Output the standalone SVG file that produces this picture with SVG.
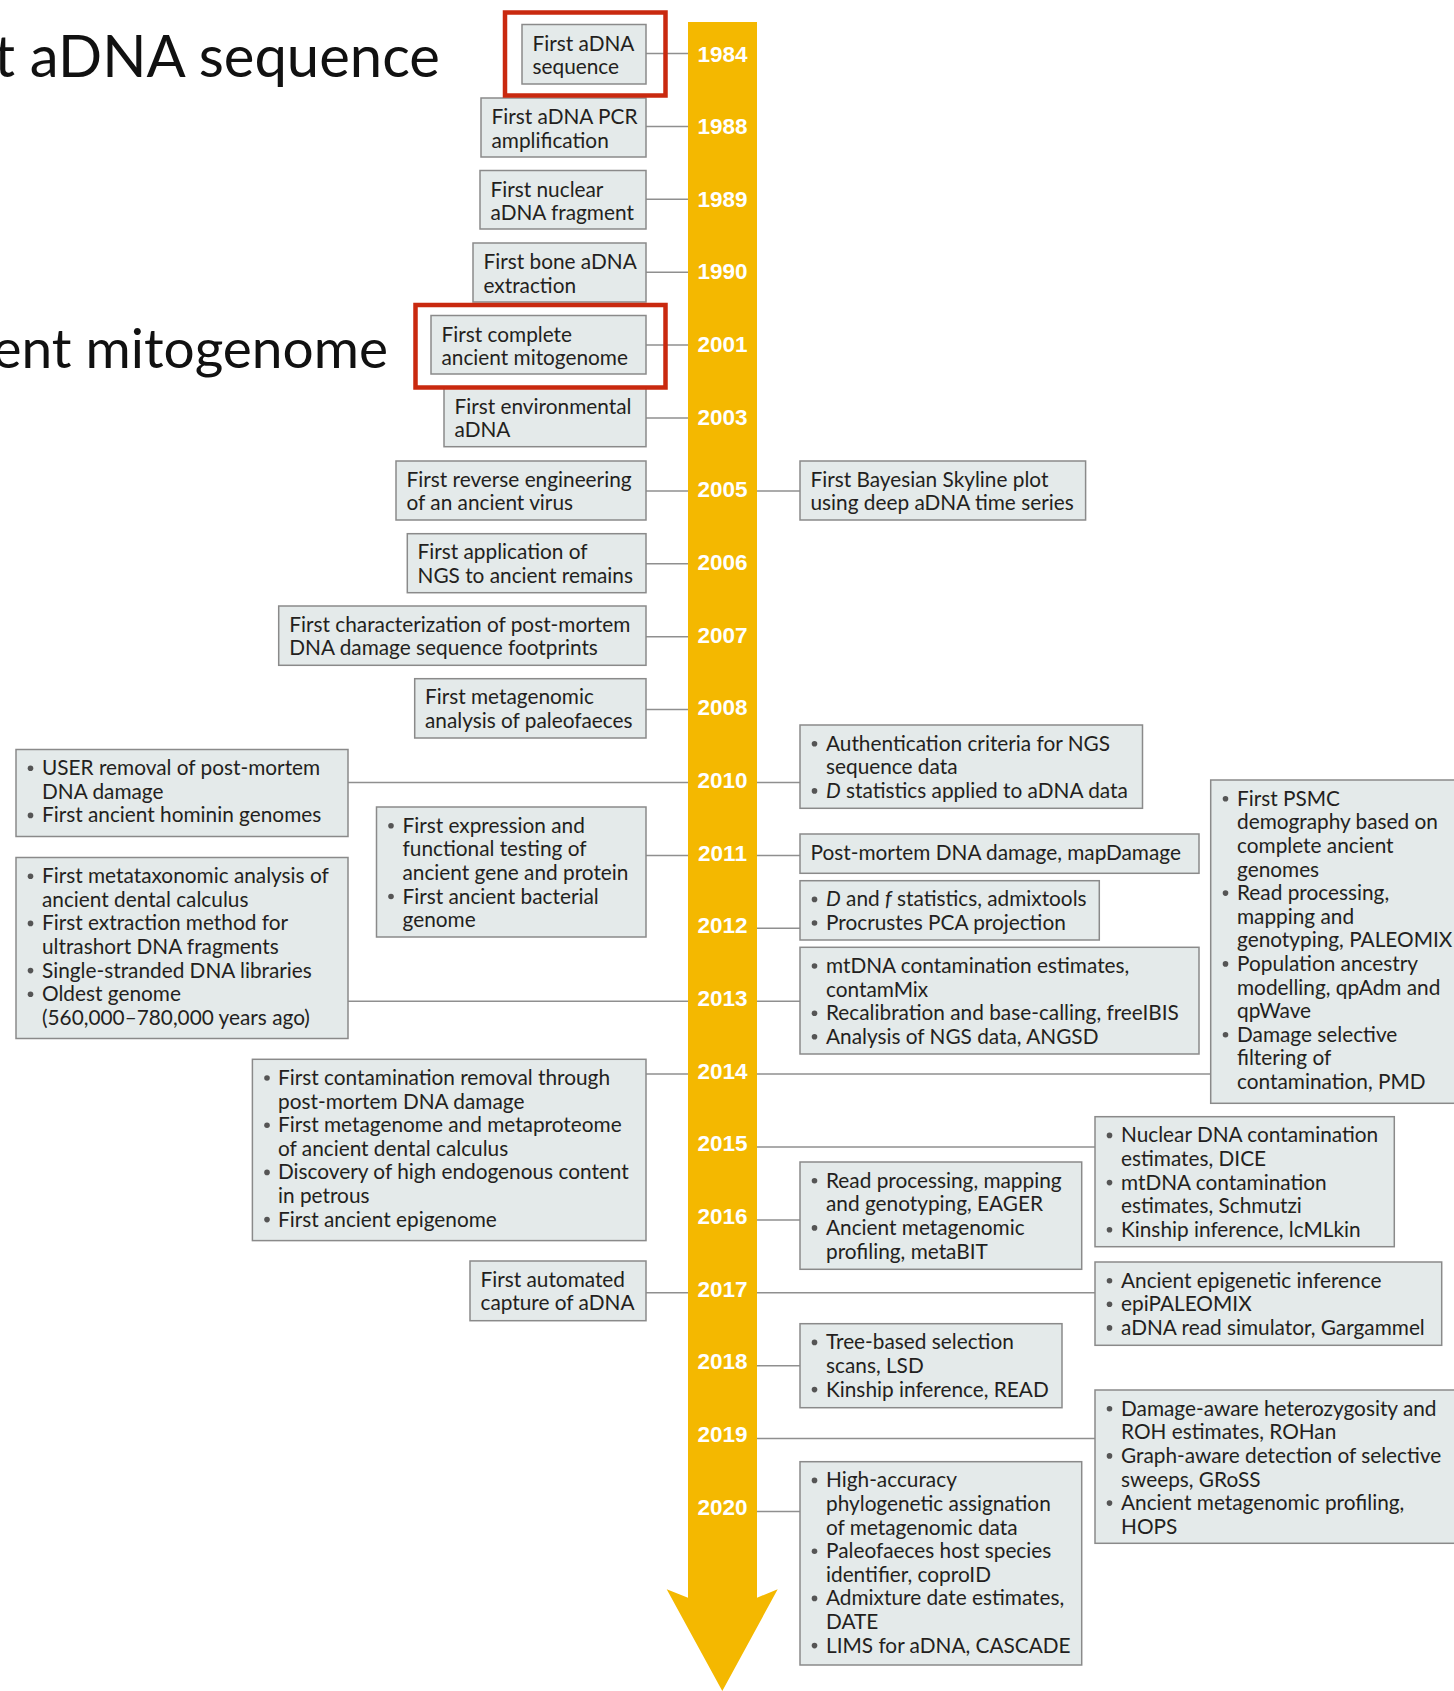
<svg xmlns="http://www.w3.org/2000/svg" width="1454" height="1691" viewBox="0 0 1454 1691">
<style>
.box{fill:#e4eaea;stroke:#8a8a8a;stroke-width:1.5}
.t{font-family:Lato,"Open Sans","Liberation Sans",sans-serif;font-size:20.8px;fill:#231f20}
.yr{font-family:"Liberation Sans",Arial,sans-serif;font-weight:bold;font-size:22.5px;fill:#ffffff;text-anchor:middle}
.con{stroke:#8f8f8f;stroke-width:1.5;fill:none}
.red{fill:none;stroke:#c9290f;stroke-width:4.5}
.bul{fill:#555555}
.title{font-family:Lato,"Open Sans","Liberation Sans",sans-serif;fill:#111111;text-anchor:end}
</style>
<rect width="1454" height="1691" fill="#ffffff"/>
<text class="title" x="440" y="77" font-size="58">t aDNA sequence</text>
<text class="title" x="388" y="368" font-size="55">ent mitogenome</text>

<g id="timeline">
<path d="M688,22 H757 V1597.7 L777.7,1589.3 L722.3,1691 L666.7,1589.3 L688,1597.7 Z" fill="#f4b800"/>
</g>

<g id="connectors">
<line class="con" x1="646" y1="53.5" x2="688" y2="53.5"/>
<line class="con" x1="646" y1="126.4" x2="688" y2="126.4"/>
<line class="con" x1="646" y1="199.3" x2="688" y2="199.3"/>
<line class="con" x1="646" y1="272.2" x2="688" y2="272.2"/>
<line class="con" x1="646" y1="345.1" x2="688" y2="345.1"/>
<line class="con" x1="646" y1="418" x2="688" y2="418"/>
<line class="con" x1="646" y1="490.9" x2="688" y2="490.9"/>
<line class="con" x1="646" y1="563.8" x2="688" y2="563.8"/>
<line class="con" x1="646" y1="636.7" x2="688" y2="636.7"/>
<line class="con" x1="646" y1="709.6" x2="688" y2="709.6"/>
<line class="con" x1="348" y1="782.5" x2="688" y2="782.5"/>
<line class="con" x1="646" y1="855.4" x2="688" y2="855.4"/>
<line class="con" x1="348" y1="1001.2" x2="688" y2="1001.2"/>
<line class="con" x1="646" y1="1074.1" x2="688" y2="1074.1"/>
<line class="con" x1="646" y1="1292.8" x2="688" y2="1292.8"/>
<line class="con" x1="757" y1="490.9" x2="800" y2="490.9"/>
<line class="con" x1="757" y1="782.5" x2="800" y2="782.5"/>
<line class="con" x1="757" y1="855.4" x2="800" y2="855.4"/>
<line class="con" x1="757" y1="928.3" x2="800" y2="928.3"/>
<line class="con" x1="757" y1="1001.2" x2="800" y2="1001.2"/>
<line class="con" x1="757" y1="1074.1" x2="1210.7" y2="1074.1"/>
<line class="con" x1="757" y1="1147" x2="1095" y2="1147"/>
<line class="con" x1="757" y1="1219.9" x2="800" y2="1219.9"/>
<line class="con" x1="757" y1="1292.8" x2="1095" y2="1292.8"/>
<line class="con" x1="757" y1="1365.7" x2="800" y2="1365.7"/>
<line class="con" x1="757" y1="1438.6" x2="1095" y2="1438.6"/>
<line class="con" x1="757" y1="1511.5" x2="800" y2="1511.5"/>
</g>

<g id="years">
<text class="yr" x="722.5" y="61.5">1984</text>
<text class="yr" x="722.5" y="134.2">1988</text>
<text class="yr" x="722.5" y="206.8">1989</text>
<text class="yr" x="722.5" y="279.4">1990</text>
<text class="yr" x="722.5" y="352.1">2001</text>
<text class="yr" x="722.5" y="424.8">2003</text>
<text class="yr" x="722.5" y="497.4">2005</text>
<text class="yr" x="722.5" y="570.1">2006</text>
<text class="yr" x="722.5" y="642.7">2007</text>
<text class="yr" x="722.5" y="715.4">2008</text>
<text class="yr" x="722.5" y="788">2010</text>
<text class="yr" x="722.5" y="860.7">2011</text>
<text class="yr" x="722.5" y="933.3">2012</text>
<text class="yr" x="722.5" y="1006">2013</text>
<text class="yr" x="722.5" y="1078.6">2014</text>
<text class="yr" x="722.5" y="1151.3">2015</text>
<text class="yr" x="722.5" y="1223.9">2016</text>
<text class="yr" x="722.5" y="1296.6">2017</text>
<text class="yr" x="722.5" y="1369.2">2018</text>
<text class="yr" x="722.5" y="1441.8">2019</text>
<text class="yr" x="722.5" y="1514.5">2020</text>
</g>

<g id="n1984">
<rect class="box" x="522" y="24.5" width="124" height="59.5"/>
<text class="t" x="532.5" y="50.5">First aDNA</text>
<text class="t" x="532.5" y="74.1">sequence</text>
</g>
<g id="n1988">
<rect class="box" x="481" y="98" width="165" height="59"/>
<text class="t" x="491.5" y="124">First aDNA PCR</text>
<text class="t" x="491.5" y="147.6">amplification</text>
</g>
<g id="n1989">
<rect class="box" x="480" y="170.5" width="166" height="58.5"/>
<text class="t" x="490.5" y="196.5">First nuclear</text>
<text class="t" x="490.5" y="220.1">aDNA fragment</text>
</g>
<g id="n1990">
<rect class="box" x="473" y="243" width="173" height="59"/>
<text class="t" x="483.5" y="269">First bone aDNA</text>
<text class="t" x="483.5" y="292.6">extraction</text>
</g>
<g id="n2001">
<rect class="box" x="431" y="315.5" width="215" height="58.5"/>
<text class="t" x="441.5" y="341.5">First complete</text>
<text class="t" x="441.5" y="365.1">ancient mitogenome</text>
</g>
<g id="n2003">
<rect class="box" x="444" y="388" width="202" height="58.7"/>
<text class="t" x="454.5" y="413.5">First environmental</text>
<text class="t" x="454.5" y="437.1">aDNA</text>
</g>
<g id="n2005L">
<rect class="box" x="396" y="461" width="250" height="59"/>
<text class="t" x="406.5" y="486.7">First reverse engineering</text>
<text class="t" x="406.5" y="510.3">of an ancient virus</text>
</g>
<g id="n2006L">
<rect class="box" x="407.3" y="533.7" width="238.7" height="59"/>
<text class="t" x="417.5" y="559.4">First application of</text>
<text class="t" x="417.5" y="583">NGS to ancient remains</text>
</g>
<g id="n2007L">
<rect class="box" x="278.7" y="606" width="367.3" height="59.3"/>
<text class="t" x="289.3" y="631.7">First characterization of post-mortem</text>
<text class="t" x="289.3" y="655.3">DNA damage sequence footprints</text>
</g>
<g id="n2008L">
<rect class="box" x="414.7" y="678.7" width="231.3" height="59.3"/>
<text class="t" x="425" y="704.4">First metagenomic</text>
<text class="t" x="425" y="728">analysis of paleofaeces</text>
</g>
<g id="n2010L">
<rect class="box" x="16" y="749.5" width="332" height="87"/>
<circle class="bul" cx="30.5" cy="768.2" r="2.8"/>
<circle class="bul" cx="30.5" cy="815.4" r="2.8"/>
<text class="t" x="42" y="775.2">USER removal of post-mortem</text>
<text class="t" x="42" y="798.8">DNA damage</text>
<text class="t" x="42" y="822.4">First ancient hominin genomes</text>
</g>
<g id="n2011L">
<rect class="box" x="376.5" y="807" width="269.5" height="130"/>
<circle class="bul" cx="391" cy="825.7" r="2.8"/>
<circle class="bul" cx="391" cy="896.5" r="2.8"/>
<text class="t" x="402.5" y="832.7">First expression and</text>
<text class="t" x="402.5" y="856.3">functional testing of</text>
<text class="t" x="402.5" y="879.9">ancient gene and protein</text>
<text class="t" x="402.5" y="903.5">First ancient bacterial</text>
<text class="t" x="402.5" y="927.1">genome</text>
</g>
<g id="n2013L">
<rect class="box" x="16" y="857.5" width="332" height="181"/>
<circle class="bul" cx="30.5" cy="876.2" r="2.8"/>
<circle class="bul" cx="30.5" cy="923.4" r="2.8"/>
<circle class="bul" cx="30.5" cy="970.6" r="2.8"/>
<circle class="bul" cx="30.5" cy="994.2" r="2.8"/>
<text class="t" x="42" y="883.2">First metataxonomic analysis of</text>
<text class="t" x="42" y="906.8">ancient dental calculus</text>
<text class="t" x="42" y="930.4">First extraction method for</text>
<text class="t" x="42" y="954">ultrashort DNA fragments</text>
<text class="t" x="42" y="977.6">Single-stranded DNA libraries</text>
<text class="t" x="42" y="1001.2">Oldest genome</text>
<text class="t" x="42" y="1024.8">(560,000–780,000 years ago)</text>
</g>
<g id="n2014L">
<rect class="box" x="252.4" y="1059.3" width="393.6" height="181.3"/>
<circle class="bul" cx="267" cy="1078" r="2.8"/>
<circle class="bul" cx="267" cy="1125.2" r="2.8"/>
<circle class="bul" cx="267" cy="1172.4" r="2.8"/>
<circle class="bul" cx="267" cy="1219.6" r="2.8"/>
<text class="t" x="278" y="1085">First contamination removal through</text>
<text class="t" x="278" y="1108.6">post-mortem DNA damage</text>
<text class="t" x="278" y="1132.2">First metagenome and metaproteome</text>
<text class="t" x="278" y="1155.8">of ancient dental calculus</text>
<text class="t" x="278" y="1179.4">Discovery of high endogenous content</text>
<text class="t" x="278" y="1203">in petrous</text>
<text class="t" x="278" y="1226.6">First ancient epigenome</text>
</g>
<g id="n2017L">
<rect class="box" x="470" y="1261" width="176" height="59.7"/>
<text class="t" x="480.5" y="1286.7">First automated</text>
<text class="t" x="480.5" y="1310.3">capture of aDNA</text>
</g>

<g id="n2005R">
<rect class="box" x="800" y="461" width="285.6" height="59"/>
<text class="t" x="810.5" y="486.7">First Bayesian Skyline plot</text>
<text class="t" x="810.5" y="510.3">using deep aDNA time series</text>
</g>
<g id="n2010R">
<rect class="box" x="800" y="725" width="342.5" height="83.3"/>
<circle class="bul" cx="814.5" cy="743.7" r="2.8"/>
<circle class="bul" cx="814.5" cy="790.9" r="2.8"/>
<text class="t" x="826" y="750.7">Authentication criteria for NGS</text>
<text class="t" x="826" y="774.3">sequence data</text>
<text class="t" x="826" y="797.9"><tspan font-style="italic">D</tspan> statistics applied to aDNA data</text>
</g>
<g id="n2011R">
<rect class="box" x="800" y="834" width="399" height="39.3"/>
<text class="t" x="810.5" y="860.3">Post-mortem DNA damage, mapDamage</text>
</g>
<g id="n2012R">
<rect class="box" x="800" y="880.7" width="299.3" height="59.3"/>
<circle class="bul" cx="814.5" cy="899.4" r="2.8"/>
<circle class="bul" cx="814.5" cy="923" r="2.8"/>
<text class="t" x="826" y="906.4"><tspan font-style="italic">D</tspan> and <tspan font-style="italic">f</tspan> statistics, admixtools</text>
<text class="t" x="826" y="930">Procrustes PCA projection</text>
</g>
<g id="n2013R">
<rect class="box" x="800" y="947.3" width="399" height="106.7"/>
<circle class="bul" cx="814.5" cy="966" r="2.8"/>
<circle class="bul" cx="814.5" cy="1013.2" r="2.8"/>
<circle class="bul" cx="814.5" cy="1036.8" r="2.8"/>
<text class="t" x="826" y="973">mtDNA contamination estimates,</text>
<text class="t" x="826" y="996.6">contamMix</text>
<text class="t" x="826" y="1020.2">Recalibration and base-calling, freeIBIS</text>
<text class="t" x="826" y="1043.8">Analysis of NGS data, ANGSD</text>
</g>
<g id="n2014R">
<rect class="box" x="1210.7" y="780" width="300" height="323.3"/>
<circle class="bul" cx="1225.5" cy="798.7" r="2.8"/>
<circle class="bul" cx="1225.5" cy="893.1" r="2.8"/>
<circle class="bul" cx="1225.5" cy="963.9" r="2.8"/>
<circle class="bul" cx="1225.5" cy="1034.7" r="2.8"/>
<text class="t" x="1237" y="805.7">First PSMC</text>
<text class="t" x="1237" y="829.3">demography based on</text>
<text class="t" x="1237" y="852.9">complete ancient</text>
<text class="t" x="1237" y="876.5">genomes</text>
<text class="t" x="1237" y="900.1">Read processing,</text>
<text class="t" x="1237" y="923.7">mapping and</text>
<text class="t" x="1237" y="947.3">genotyping, PALEOMIX</text>
<text class="t" x="1237" y="970.9">Population ancestry</text>
<text class="t" x="1237" y="994.5">modelling, qpAdm and</text>
<text class="t" x="1237" y="1018.1">qpWave</text>
<text class="t" x="1237" y="1041.7">Damage selective</text>
<text class="t" x="1237" y="1065.3">filtering of</text>
<text class="t" x="1237" y="1088.9">contamination, PMD</text>
</g>
<g id="n2015R">
<rect class="box" x="1095" y="1116.7" width="299.3" height="130"/>
<circle class="bul" cx="1109.5" cy="1135.4" r="2.8"/>
<circle class="bul" cx="1109.5" cy="1182.6" r="2.8"/>
<circle class="bul" cx="1109.5" cy="1229.8" r="2.8"/>
<text class="t" x="1121" y="1142.4">Nuclear DNA contamination</text>
<text class="t" x="1121" y="1166">estimates, DICE</text>
<text class="t" x="1121" y="1189.6">mtDNA contamination</text>
<text class="t" x="1121" y="1213.2">estimates, Schmutzi</text>
<text class="t" x="1121" y="1236.8">Kinship inference, lcMLkin</text>
</g>
<g id="n2016R">
<rect class="box" x="800" y="1162" width="281.7" height="107.3"/>
<circle class="bul" cx="814.5" cy="1180.7" r="2.8"/>
<circle class="bul" cx="814.5" cy="1227.9" r="2.8"/>
<text class="t" x="826" y="1187.7">Read processing, mapping</text>
<text class="t" x="826" y="1211.3">and genotyping, EAGER</text>
<text class="t" x="826" y="1234.9">Ancient metagenomic</text>
<text class="t" x="826" y="1258.5">profiling, metaBIT</text>
</g>
<g id="n2017R">
<rect class="box" x="1095" y="1262" width="346.7" height="83.3"/>
<circle class="bul" cx="1109.5" cy="1280.7" r="2.8"/>
<circle class="bul" cx="1109.5" cy="1304.3" r="2.8"/>
<circle class="bul" cx="1109.5" cy="1327.9" r="2.8"/>
<text class="t" x="1121" y="1287.7">Ancient epigenetic inference</text>
<text class="t" x="1121" y="1311.3">epiPALEOMIX</text>
<text class="t" x="1121" y="1334.9">aDNA read simulator, Gargammel</text>
</g>
<g id="n2018R">
<rect class="box" x="800" y="1323.7" width="262" height="84"/>
<circle class="bul" cx="814.5" cy="1342.4" r="2.8"/>
<circle class="bul" cx="814.5" cy="1389.6" r="2.8"/>
<text class="t" x="826" y="1349.4">Tree-based selection</text>
<text class="t" x="826" y="1373">scans, LSD</text>
<text class="t" x="826" y="1396.6">Kinship inference, READ</text>
</g>
<g id="n2019R">
<rect class="box" x="1095" y="1390" width="380" height="153.3"/>
<circle class="bul" cx="1109.5" cy="1408.7" r="2.8"/>
<circle class="bul" cx="1109.5" cy="1455.9" r="2.8"/>
<circle class="bul" cx="1109.5" cy="1503.1" r="2.8"/>
<text class="t" x="1121" y="1415.7">Damage-aware heterozygosity and</text>
<text class="t" x="1121" y="1439.3">ROH estimates, ROHan</text>
<text class="t" x="1121" y="1462.9">Graph-aware detection of selective</text>
<text class="t" x="1121" y="1486.5">sweeps, GRoSS</text>
<text class="t" x="1121" y="1510.1">Ancient metagenomic profiling,</text>
<text class="t" x="1121" y="1533.7">HOPS</text>
</g>
<g id="n2020R">
<rect class="box" x="800" y="1461.7" width="281.7" height="203.3"/>
<circle class="bul" cx="814.5" cy="1480.4" r="2.8"/>
<circle class="bul" cx="814.5" cy="1551.2" r="2.8"/>
<circle class="bul" cx="814.5" cy="1598.4" r="2.8"/>
<circle class="bul" cx="814.5" cy="1645.6" r="2.8"/>
<text class="t" x="826" y="1487.4">High-accuracy</text>
<text class="t" x="826" y="1511">phylogenetic assignation</text>
<text class="t" x="826" y="1534.6">of metagenomic data</text>
<text class="t" x="826" y="1558.2">Paleofaeces host species</text>
<text class="t" x="826" y="1581.8">identifier, coproID</text>
<text class="t" x="826" y="1605.4">Admixture date estimates,</text>
<text class="t" x="826" y="1629">DATE</text>
<text class="t" x="826" y="1652.6">LIMS for aDNA, CASCADE</text>
</g>

<g id="highlights">
<rect class="red" x="505" y="12.5" width="160.5" height="83"/>
<rect class="red" x="415.5" y="305" width="250" height="82.5"/>
</g>
</svg>
